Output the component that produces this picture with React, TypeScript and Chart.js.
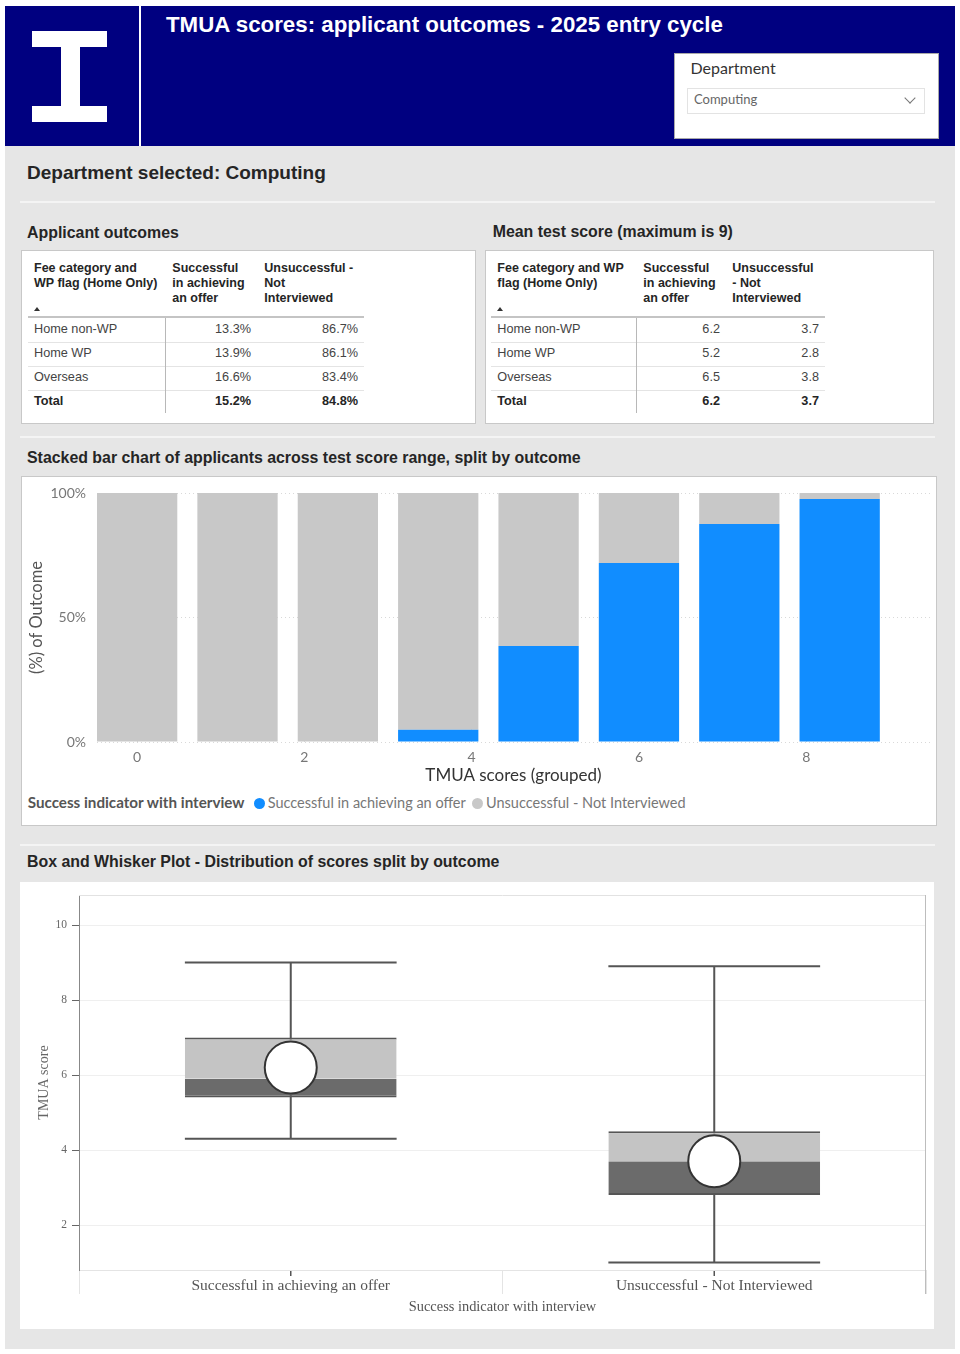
import React, { useEffect, useRef } from "react";
import { Chart, registerables } from "chart.js";

Chart.register(...registerables);

// ---------------- data ----------------
const reportTitle = "TMUA scores: applicant outcomes - 2025 entry cycle";
const departmentName = "Computing";

const feeCategories = ["Home non-WP", "Home WP", "Overseas", "Total"];
const outcomeSuccessful = ["13.3%", "13.9%", "16.6%", "15.2%"];
const outcomeUnsuccessful = ["86.7%", "86.1%", "83.4%", "84.8%"];
const meanSuccessful = ["6.2", "5.2", "6.5", "6.2"];
const meanUnsuccessful = ["3.7", "2.8", "3.8", "3.7"];

const scoreBins = [0, 1.2, 2.4, 3.6, 4.8, 6.0, 7.2, 8.4];
const successfulShare = [0, 0, 0, 4.9, 38.6, 71.9, 87.6, 97.6];
const unsuccessfulShare = [100, 100, 100, 95.1, 61.4, 28.1, 12.4, 2.4];
const scoreTicks = [0, 2, 4, 6, 8];
const shareTicks = [0, 50, 100];

const outcomeLabels = ["Successful in achieving an offer", "Unsuccessful - Not Interviewed"];
const boxMin = [4.3, 1.0];
const boxQ1 = [5.4, 2.8];
const boxMedian = [5.9, 3.7];
const boxQ3 = [7.0, 4.5];
const boxMax = [9.0, 8.9];
const boxMean = [6.2, 3.7];
const boxScoreTicks = [2, 4, 6, 8, 10];

// ---------------- styles ----------------
const SANS = '"Liberation Sans", Arial, sans-serif';
const UI = 'Lato, "Open Sans", sans-serif';
const SERIF = '"Liberation Serif", "Times New Roman", serif';
const BLUE = "#118DFF";
const GREY = "#C8C8C8";

function T(props: any) {
  const { x, b, size, children, bold = false, color = "#252525", family = SANS, right = false, style = {} } = props;
  const s: any = {
    position: "absolute",
    top: b - 0.85 * size,
    fontSize: size,
    lineHeight: `${size}px`,
    fontWeight: bold ? 700 : 400,
    color,
    fontFamily: family,
    whiteSpace: "nowrap",
    ...style,
  };
  if (right) {
    s.right = 960 - x;
    s.textAlign = "right";
  } else s.left = x;
  return <div style={s}>{children}</div>;
}

function Box(props: any) {
  const { x, y, w, h, bg = "transparent", border, style = {} } = props;
  return (
    <div
      style={{
        position: "absolute",
        left: x,
        top: y,
        width: w,
        height: h,
        background: bg,
        border: border,
        boxSizing: "border-box",
        ...style,
      }}
    />
  );
}

function DataTable(props: any) {
  const { cx, head, colRight, vLine, lineL, lineR, c2, c3 } = props;
  const headB = [272.2, 287.2, 302.2];
  const rowB = [334.2, 358.2, 382.2, 406.2];
  const rowLines = [341.5, 365.5, 389.5];
  const els: any[] = [];
  head.forEach((lines: string[], ci: number) =>
    lines.forEach((ln, li) =>
      els.push(
        <T key={`h${ci}${li}`} x={cx[ci]} b={headB[li]} size={12.5} bold color="#252525">
          {ln}
        </T>
      )
    )
  );
  els.push(
    <div
      key="arrow"
      style={{
        position: "absolute",
        left: cx[0],
        top: 307,
        width: 0,
        height: 0,
        borderLeft: "3.5px solid transparent",
        borderRight: "3.5px solid transparent",
        borderBottom: "4px solid #333",
      }}
    />
  );
  els.push(<Box key="hl" x={lineL} y={316.3} w={lineR - lineL} h={2} bg="#c4c4c4" />);
  rowLines.forEach((y, i) => els.push(<Box key={`rl${i}`} x={lineL} y={y} w={lineR - lineL} h={1} bg="#e4e4e4" />));
  els.push(<Box key="vl" x={vLine} y={318} w={1} h={95} bg="#b8b8b8" />);
  feeCategories.forEach((cat, i) => {
    const total = i === feeCategories.length - 1;
    const color = total ? "#252525" : "#444";
    els.push(
      <T key={`c${i}`} x={cx[0]} b={rowB[i]} size={12.7} bold={total} color={color}>
        {cat}
      </T>
    );
    els.push(
      <T key={`a${i}`} x={colRight[0]} b={rowB[i]} size={12.7} bold={total} color={color} right>
        {c2[i]}
      </T>
    );
    els.push(
      <T key={`b${i}`} x={colRight[1]} b={rowB[i]} size={12.7} bold={total} color={color} right>
        {c3[i]}
      </T>
    );
  });
  return <>{els}</>;
}

function StackedChart() {
  const ref = useRef<HTMLCanvasElement>(null);
  useEffect(() => {
    const chart = new Chart(ref.current as HTMLCanvasElement, {
      type: "bar",
      data: {
        datasets: [
          {
            label: outcomeLabels[0],
            data: scoreBins.map((x, i) => ({ x, y: successfulShare[i] })),
            backgroundColor: BLUE,
            barPercentage: 0.8,
            categoryPercentage: 1,
          },
          {
            label: outcomeLabels[1],
            data: scoreBins.map((x, i) => ({ x, y: unsuccessfulShare[i] })),
            backgroundColor: GREY,
            barPercentage: 0.8,
            categoryPercentage: 1,
          },
        ],
      } as any,
      options: {
        animation: false,
        responsive: false,
        maintainAspectRatio: false,
        events: [],
        layout: { autoPadding: false, padding: { top: 16, right: 6, left: 0, bottom: 0 } },
        plugins: { legend: { display: false }, tooltip: { enabled: false } },
        scales: {
          x: {
            type: "linear",
            stacked: true,
            offset: false,
            min: -0.48,
            max: 9.48,
            afterBuildTicks: (s: any) => {
              s.ticks = scoreTicks.map((v) => ({ value: v }));
            },
            afterFit: (s: any) => {
              s.height = 48;
            },
            grid: { offset: false, color: "#d9d9d9", drawTicks: false },
            border: { display: false, dash: [1, 3] },
            ticks: { padding: 7, color: "#777", font: { family: UI, size: 14 }, maxRotation: 0 },
            title: {
              display: true,
              text: "TMUA scores (grouped)",
              color: "#333",
              font: { family: UI, size: 17 },
              padding: { top: 0, bottom: 3.8 },
            },
          },
          y: {
            stacked: true,
            min: 0,
            max: 100,
            afterBuildTicks: (s: any) => {
              s.ticks = shareTicks.map((v) => ({ value: v }));
            },
            afterFit: (s: any) => {
              s.width = 75;
            },
            grid: { color: "#d9d9d9", drawTicks: true, tickLength: 11, tickColor: "rgba(0,0,0,0)" },
            border: { display: false, dash: [1, 3] },
            ticks: {
              padding: 0,
              color: "#777",
              font: { family: UI, size: 14 },
              callback: (v: any) => `${v}%`,
            },
            title: {
              display: true,
              text: "(%) of Outcome",
              color: "#555",
              font: { family: UI, size: 16.5 },
              padding: { top: 5, bottom: 0 },
            },
          },
        },
      } as any,
    });
    return () => chart.destroy();
  }, []);
  return (
    <canvas
      ref={ref}
      width={914}
      height={313}
      style={{ position: "absolute", left: 22, top: 477, width: 914, height: 313 }}
    />
  );
}

const whiskerPlugin = {
  id: "whiskers",
  beforeDatasetsDraw(chart: any) {
    const { ctx, scales } = chart;
    const x = scales.x;
    const y = scales.y;
    const meta = chart.getDatasetMeta(1);
    ctx.save();
    ctx.strokeStyle = "#555";
    ctx.lineWidth = 2;
    outcomeLabels.forEach((_, i) => {
      const bar = meta.data[i];
      const cx = x.getPixelForValue(i);
      const half = bar.width / 2;
      const yMin = y.getPixelForValue(boxMin[i]);
      const yMax = y.getPixelForValue(boxMax[i]);
      ctx.beginPath();
      ctx.moveTo(cx, yMax);
      ctx.lineTo(cx, yMin);
      ctx.moveTo(cx - half, yMax);
      ctx.lineTo(cx + half, yMax);
      ctx.moveTo(cx - half, yMin);
      ctx.lineTo(cx + half, yMin);
      ctx.stroke();
    });
    ctx.restore();
  },
  afterDraw(chart: any) {
    const { ctx, chartArea, scales } = chart;
    ctx.save();
    ctx.lineWidth = 1;
    ctx.strokeStyle = "#e2e2e2";
    ctx.beginPath();
    ctx.moveTo(chartArea.left, chartArea.top + 0.5);
    ctx.lineTo(chartArea.right, chartArea.top + 0.5);
    ctx.stroke();
    ctx.strokeStyle = "#bdbdbd";
    ctx.beginPath();
    ctx.moveTo(chartArea.right - 0.5, chartArea.top);
    ctx.lineTo(chartArea.right - 0.5, chartArea.bottom + 24);
    ctx.stroke();
    ctx.strokeStyle = "#555";
    ctx.lineWidth = 1.5;
    outcomeLabels.forEach((_, i) => {
      const cx = scales.x.getPixelForValue(i);
      ctx.beginPath();
      ctx.moveTo(cx, chartArea.bottom + 1);
      ctx.lineTo(cx, chartArea.bottom + 6);
      ctx.stroke();
    });
    ctx.restore();
  },
};

function BoxPlotChart() {
  const ref = useRef<HTMLCanvasElement>(null);
  useEffect(() => {
    const chart = new Chart(ref.current as HTMLCanvasElement, {
      type: "bar",
      data: {
        labels: outcomeLabels,
        datasets: [
          {
            type: "line",
            label: "Mean",
            data: boxMean,
            showLine: false,
            pointRadius: 26,
            pointBackgroundColor: "#ffffff",
            pointBorderColor: "#333",
            pointBorderWidth: 2,
            order: 0,
          },
          {
            label: "Q3",
            data: outcomeLabels.map((_, i) => [boxMedian[i], boxQ3[i]]),
            backgroundColor: "#C4C4C4",
            borderColor: "#555",
            borderWidth: { top: 2, bottom: 0, left: 0, right: 0 },
            borderSkipped: false,
            grouped: false,
            barPercentage: 0.5,
            categoryPercentage: 1,
            order: 1,
          },
          {
            label: "Q1",
            data: outcomeLabels.map((_, i) => [boxQ1[i], boxMedian[i]]),
            backgroundColor: "#6B6B6B",
            borderColor: "#555",
            borderWidth: { top: 0, bottom: 2, left: 0, right: 0 },
            borderSkipped: false,
            grouped: false,
            barPercentage: 0.5,
            categoryPercentage: 1,
            order: 2,
          },
        ],
      } as any,
      options: {
        animation: false,
        responsive: false,
        maintainAspectRatio: false,
        events: [],
        layout: { autoPadding: false, padding: { top: 13, right: 8, left: 0, bottom: 0 } },
        plugins: { legend: { display: false }, tooltip: { enabled: false } },
        scales: {
          x: {
            afterFit: (s: any) => {
              s.height = 59;
            },
            grid: { offset: true, drawOnChartArea: false, drawTicks: true, tickLength: 24, color: "#e4e4e4" },
            border: { display: true, color: "#e4e4e4" },
            ticks: { padding: -17, color: "#555", font: { family: SERIF, size: 15.5 } },
            title: {
              display: true,
              text: "Success indicator with interview",
              color: "#555",
              font: { family: SERIF, size: 14.4 },
              padding: { top: 0, bottom: 13.5 },
            },
          },
          y: {
            min: 0.8,
            max: 10.8,
            afterBuildTicks: (s: any) => {
              s.ticks = boxScoreTicks.map((v) => ({ value: v }));
            },
            afterFit: (s: any) => {
              s.width = 59;
            },
            grid: { color: "#efefef", tickColor: "#666", tickLength: 7, drawTicks: true },
            border: { display: true, color: "#888" },
            ticks: { padding: 5, color: "#666", font: { family: SERIF, size: 11.5 } },
            title: {
              display: true,
              text: "TMUA score",
              color: "#666",
              font: { family: SERIF, size: 14 },
              padding: { top: 15.6, bottom: 0 },
            },
          },
        },
      } as any,
      plugins: [whiskerPlugin],
    });
    return () => chart.destroy();
  }, []);
  return (
    <canvas
      ref={ref}
      width={914}
      height={447}
      style={{ position: "absolute", left: 20, top: 882, width: 914, height: 447 }}
    />
  );
}

export default function App() {
  return (
    <div
      style={{
        position: "absolute",
        left: 0,
        top: 0,
        width: 960,
        height: 1354,
        background: "#ffffff",
        overflow: "hidden",
        fontFamily: SANS,
      }}
    >
      {/* header */}
      <Box x={5} y={6} w={950} h={139.5} bg="#000080" />
      <Box x={138.5} y={6} w={2.5} h={139.5} bg="#ffffff" />
      <Box x={32} y={31} w={75} h={16} bg="#ffffff" />
      <Box x={61} y={46} w={19} h={61} bg="#ffffff" />
      <Box x={32} y={106} w={75} h={16} bg="#ffffff" />
      <T x={166} b={32.7} size={22.3} bold color="#ffffff">
        {reportTitle}
      </T>
      <Box x={674} y={52.5} w={264.5} h={86.5} bg="#ffffff" border="1px solid #a9a9a9" />
      <T x={690.5} b={74} size={16} family={UI} color="#333">
        Department
      </T>
      <Box x={687} y={87.5} w={238} h={26} bg="#ffffff" border="1px solid #e3e3e3" />
      <T x={694} b={104.5} size={13} family={UI} color="#666">
        {departmentName}
      </T>
      <div
        style={{
          position: "absolute",
          left: 906,
          top: 94,
          width: 7,
          height: 7,
          borderRight: "1px solid #777",
          borderBottom: "1px solid #777",
          transform: "rotate(45deg)",
        }}
      />

      {/* grey panel */}
      <Box x={5} y={146} w={950} h={1203} bg="#e6e6e6" />
      <T x={27} b={179} size={19} bold color="#252525">
        Department selected: {departmentName}
      </T>
      <Box x={20} y={201} w={915} h={2} bg="#f4f4f4" />

      <T x={27} b={238.3} size={15.9} bold color="#252525">
        Applicant outcomes
      </T>
      <T x={492.7} b={237.3} size={15.9} bold color="#252525">
        Mean test score (maximum is 9)
      </T>
      <Box x={21} y={250} w={455} h={174} bg="#ffffff" border="1px solid #c8c8c8" />
      <Box x={485} y={250} w={449} h={174} bg="#ffffff" border="1px solid #c8c8c8" />
      <DataTable
        cx={[34, 172.3, 264.3]}
        head={[
          ["Fee category and", "WP flag (Home Only)"],
          ["Successful", "in achieving", "an offer"],
          ["Unsuccessful -", "Not", "Interviewed"],
        ]}
        colRight={[251, 358]}
        vLine={164.5}
        lineL={28}
        lineR={364}
        c2={outcomeSuccessful}
        c3={outcomeUnsuccessful}
      />
      <DataTable
        cx={[497.3, 643.3, 732.3]}
        head={[
          ["Fee category and WP", "flag (Home Only)"],
          ["Successful", "in achieving", "an offer"],
          ["Unsuccessful", "- Not", "Interviewed"],
        ]}
        colRight={[720, 819]}
        vLine={636.3}
        lineL={491}
        lineR={825}
        c2={meanSuccessful}
        c3={meanUnsuccessful}
      />
      <Box x={20} y={436} w={915} h={2} bg="#f4f4f4" />

      {/* stacked bar chart */}
      <T x={27} b={464} size={15.9} bold color="#252525">
        Stacked bar chart of applicants across test score range, split by outcome
      </T>
      <Box x={21} y={476} w={916} h={350} bg="#ffffff" border="1px solid #c8c8c8" />
      <StackedChart />
      <T x={27.7} b={808} size={15.2} bold family={UI} color="#555">
        Success indicator with interview
      </T>
      <div
        style={{ position: "absolute", left: 254, top: 797.5, width: 11, height: 11, borderRadius: "50%", background: BLUE }}
      />
      <T x={267.7} b={808} size={14.5} family={UI} color="#777">
        {outcomeLabels[0]}
      </T>
      <div
        style={{ position: "absolute", left: 472, top: 797.5, width: 11, height: 11, borderRadius: "50%", background: GREY }}
      />
      <T x={486} b={808} size={14.5} family={UI} color="#777">
        {outcomeLabels[1]}
      </T>
      <Box x={20} y={844} w={915} h={2} bg="#f4f4f4" />

      {/* box plot */}
      <T x={27} b={867.7} size={15.9} bold color="#252525">
        Box and Whisker Plot - Distribution of scores split by outcome
      </T>
      <Box x={20} y={882} w={914} h={447} bg="#ffffff" />
      <BoxPlotChart />
    </div>
  );
}
